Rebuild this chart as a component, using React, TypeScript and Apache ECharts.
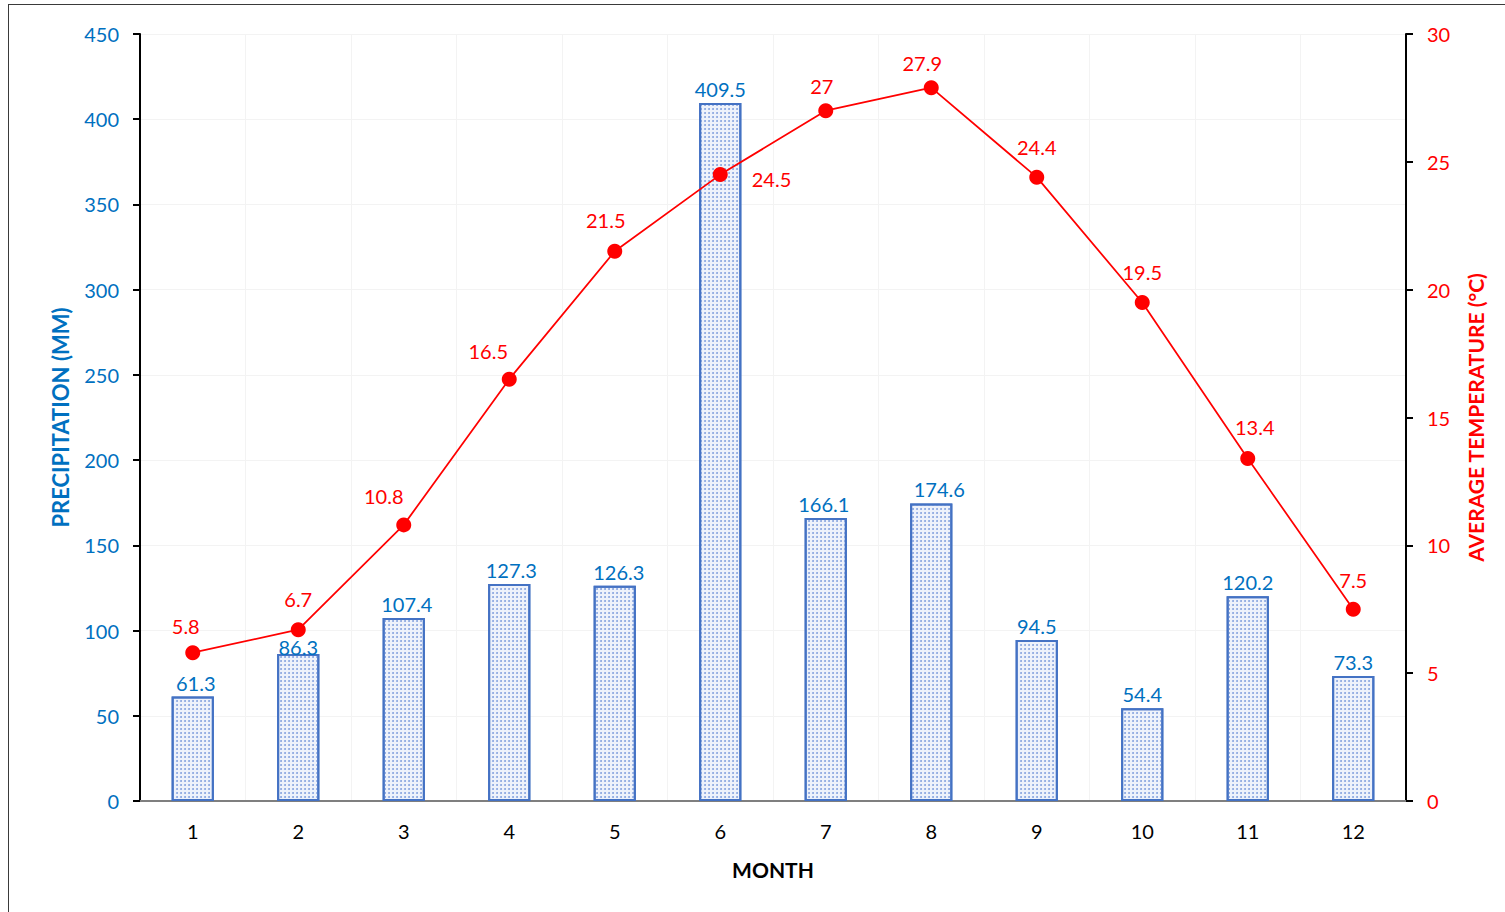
import React, { useEffect, useRef } from "react";
import * as echarts from "echarts";

const months = ["1", "2", "3", "4", "5", "6", "7", "8", "9", "10", "11", "12"];
const precipitation = [61.3, 86.3, 107.4, 127.3, 126.3, 409.5, 166.1, 174.6, 94.5, 54.4, 120.2, 73.3];
const temperature = [5.8, 6.7, 10.8, 16.5, 21.5, 24.5, 27, 27.9, 24.4, 19.5, 13.4, 7.5];

// label nudges so the texts sit where they read best
const barLabelOffsets: number[][] = [
  [3, 0], [0, 7], [3, 0], [2, 0], [4, 0], [0, 0], [-2, 0], [8, 0], [0, 0], [0, 0], [0, 0], [0, 0],
];
const lineLabelOffsets: number[][] = [
  [-7, 2], [0, -2], [-20, 0], [-21, 0], [-9, -3], [0, 0], [-4, 4], [-9, 4], [0, -2], [0, -2], [7, -3], [0, -1],
];

const FONT = "Lato, 'Open Sans', sans-serif";
const BLUE = "#0070C0";
const RED = "#FF0000";

export default function App() {
  const ref = useRef<HTMLDivElement>(null);

  useEffect(() => {
    if (!ref.current) return;
    const chart = echarts.init(ref.current, undefined, { renderer: "svg" });
    chart.setOption({
      animation: false,
      backgroundColor: "#ffffff",
      textStyle: { fontFamily: FONT },
      grid: { left: 140, right: 99, top: 34, bottom: 111, containLabel: false },
      xAxis: {
        type: "category",
        data: months,
        name: "MONTH",
        nameLocation: "middle",
        nameGap: 58,
        nameTextStyle: { color: "#000", fontSize: 21, fontWeight: "bold", fontFamily: FONT },
        axisLine: { lineStyle: { color: "#7f7f7f", width: 2 } },
        axisTick: { show: false },
        axisLabel: { color: "#000", fontSize: 20, margin: 20, fontFamily: FONT },
        splitLine: { show: true, lineStyle: { color: "#f3f3f3", width: 1 } },
      },
      yAxis: [
        {
          type: "value",
          min: 0,
          max: 450,
          interval: 50,
          name: "PRECIPITATION (MM)",
          nameLocation: "middle",
          nameGap: 69,
          nameTextStyle: { color: BLUE, fontSize: 22, fontWeight: "bold", fontFamily: FONT },
          axisLine: { show: true, lineStyle: { color: "#000", width: 2 } },
          axisTick: { show: true, length: 7, lineStyle: { color: "#000", width: 2 } },
          axisLabel: { color: BLUE, fontSize: 20, margin: 21, fontFamily: FONT },
          splitLine: { show: true, lineStyle: { color: "#f3f3f3", width: 1 } },
        },
        {
          type: "value",
          min: 0,
          max: 30,
          interval: 5,
          name: "AVERAGE TEMPERATURE (°C)",
          nameLocation: "middle",
          nameGap: 59,
          nameRotate: 90,
          nameTextStyle: { color: RED, fontSize: 21, fontWeight: "bold", fontFamily: FONT },
          axisLine: { show: true, lineStyle: { color: "#000", width: 2 } },
          axisTick: { show: true, length: 7, lineStyle: { color: "#000", width: 2 } },
          axisLabel: { color: RED, fontSize: 20, margin: 21, fontFamily: FONT },
          splitLine: { show: false },
        },
      ],
      series: [
        {
          type: "bar",
          yAxisIndex: 0,
          barWidth: "40%",
          data: precipitation.map((v, i) => ({
            value: v,
            label: { offset: barLabelOffsets[i] },
          })),
          itemStyle: {
            color: "#eef2fb",
            borderColor: "#4472C4",
            borderWidth: 2,
            decal: {
              symbol: "circle",
              symbolSize: 0.9,
              dashArrayX: [2, 2],
              dashArrayY: [2, 2],
              color: "#7e9ddc",
            },
          },
          label: {
            show: true,
            position: "top",
            distance: 4,
            color: BLUE,
            fontSize: 20,
            fontFamily: FONT,
          },
          z: 2,
        },
        {
          type: "line",
          yAxisIndex: 1,
          data: temperature.map((v, i) => ({
            value: v,
            label:
              i === 5
                ? { position: "right", distance: 24, offset: [0, 4] }
                : { offset: lineLabelOffsets[i] },
          })),
          lineStyle: { color: RED, width: 1.75 },
          itemStyle: { color: RED },
          symbol: "circle",
          symbolSize: 15,
          label: {
            show: true,
            position: "top",
            distance: 11,
            color: RED,
            fontSize: 20,
            fontFamily: FONT,
          },
          z: 3,
        },
      ],
    });
    return () => chart.dispose();
  }, []);

  return (
    <div style={{ position: "fixed", left: 0, top: 0, width: 1505, height: 912, overflow: "hidden", background: "#fff" }}>
      <div ref={ref} style={{ position: "absolute", left: 0, top: 0, width: 1505, height: 912 }} />
      <div
        style={{
          position: "absolute",
          left: 8,
          top: 4,
          width: 1530,
          height: 940,
          border: "1.5px solid #3a3a3a",
          pointerEvents: "none",
        }}
      />
    </div>
  );
}
